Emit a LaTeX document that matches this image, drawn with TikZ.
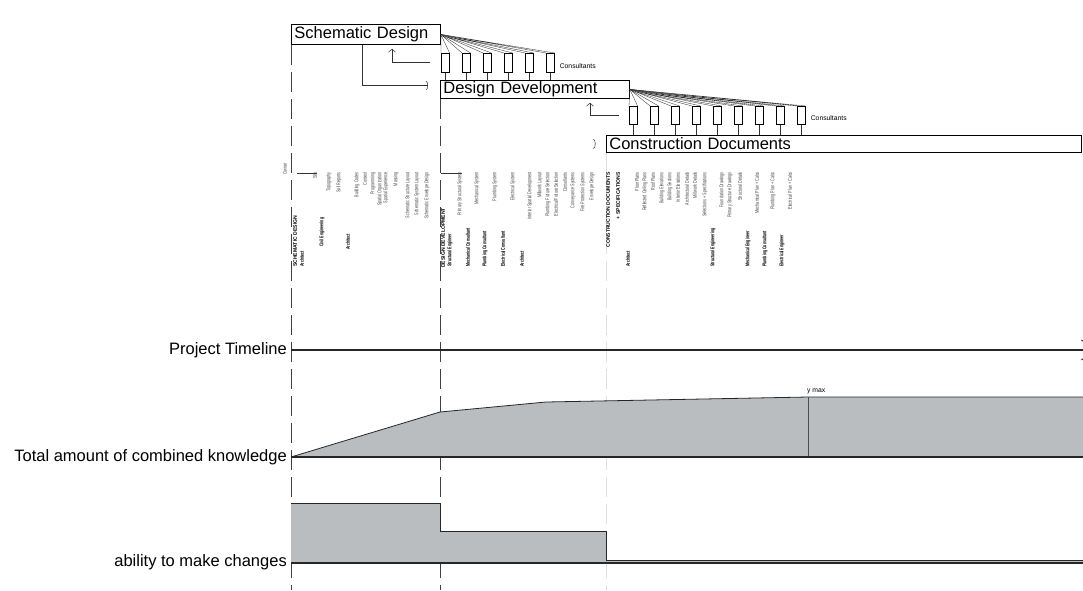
\documentclass[tikz,border=0pt]{standalone}
\usepackage{fontspec}
\setmainfont{Liberation Sans}
\usetikzlibrary{arrows.meta,positioning,calc}
\definecolor{chartgray}{RGB}{186,189,192}
\definecolor{inkgray}{RGB}{70,70,70}

\tikzset{
  phasebox/.style={draw=black,line width=0.8pt,inner xsep=3pt,inner ysep=0pt,
    anchor=north west,align=left,font=\fontsize{16.5}{18}\selectfont},
  consbox/.style={draw=black,line width=0.6pt,minimum width=8pt,
    minimum height=19pt,inner sep=0pt,anchor=north west},
  constxt/.style={font=\fontsize{6.8}{8}\selectfont,inner sep=0pt},
  rowlabel/.style={anchor=east,font=\fontsize{16.5}{18}\selectfont,inner sep=0pt},
  itemtxt/.style={rotate=90,xscale=0.68,anchor=east,inner sep=0pt,
    font=\fontsize{5.5}{6}\selectfont,text=inkgray},
  roletxt/.style={rotate=90,xscale=0.66,anchor=west,inner sep=0pt,
    font=\fontsize{5.4}{6}\selectfont\bfseries},
  headtxt/.style={rotate=90,anchor=west,inner sep=0pt,
    font=\fontsize{5.1}{6}\selectfont\bfseries},
  headtop/.style={headtxt,anchor=east},
  phaseline/.style={dash pattern=on 20pt off 7pt,line width=0.5pt,black!75},
  fanline/.style={line width=0.35pt,black!80},
  conn/.style={line width=0.5pt,black!80},
  base/.style={line width=1.4pt,black!85}
}

\begin{document}
\begin{tikzpicture}[x=1pt,y=-1pt]
  \useasboundingbox (0,0) rectangle (1083,590);

  % phases
  \node[phasebox,text width=143pt,minimum height=20pt] (sd) at (291,24) {Schematic Design};
  \node[phasebox,text width=183pt,minimum height=18pt] (dd) at (440,80) {Design Development};
  \node[phasebox,text width=469pt,minimum height=17pt] (cd) at (606,135) {Construction Documents};

  % consultants
  \foreach \k in {0,...,5}{
    \node[consbox] (ca\k) at (441+21*\k,53) {};
    \draw[fanline] (sd.east) -- (ca\k.north west) (sd.east) -- (ca\k.north east);
    \draw[conn] (ca\k.south) -- (ca\k.south |- dd.north);
  }
  \node[constxt,anchor=west] (cl1) at ($(ca5.east)+(5,3)$) {Consultants};
  \foreach \k in {0,...,8}{
    \node[consbox,minimum height=18pt] (cb\k) at (629+21*\k,106) {};
    \draw[fanline] (dd.east) -- (cb\k.north west) (dd.east) -- (cb\k.north east);
    \draw[conn] (cb\k.south) -- (cb\k.south |- cd.north);
  }
  \node[constxt,anchor=west] (cl2) at ($(cb8.east)+(5,3)$) {Consultants};

  % feedback and hand-over
  \coordinate (fa) at (430,62);
  \coordinate (fb) at (619,115);
  \draw[conn,-{Straight Barb[length=3pt,width=7pt]}] (fa) -| ($(sd.south west)+(101,4)$);
  \draw[conn,-{Straight Barb[length=3pt,width=7pt]}] (fb) -| ($(dd.south west)+(150,4)$);
  \draw[conn,-{Arc Barb[length=2pt,width=9pt]}] ($(sd.south west)+(71,0)$) |- ($(dd.west)+(-12,-4)$);
  \draw[conn] ($(cd.west)+(-13,-4.5)$) to[out=30,in=-30] ($(cd.west)+(-13,4.5)$);

  % phase lines
  \draw[phaseline] (sd.south west) -- (291,590);
  \draw[phaseline] (dd.south west) -- (440,590);
  \draw[phaseline,black!12] (cd.south west) -- (606,590);
  \draw[conn] (297,173) -- (317,173);
  \draw[conn] (441,173) -- (462,173);

  % tasks
  \foreach \x/\y/\s/\t [count=\n] in {
    285/163/itemtxt/Owner, 295/267/headtxt/SCHEMATIC DESIGN, 302/267/roletxt/Architect,
    315/172/itemtxt/Site, 322/247/roletxt/Civil Engineering, 329/172/itemtxt/Topography,
    339/172/itemtxt/Soil Reports, 348/250/roletxt/Architect, 357/172/itemtxt/Building Codes,
    365/172/itemtxt/Context, 373/172/itemtxt/Programming, 380/172/itemtxt/Spatial Organization,
    386/172/itemtxt/Spatial Experience, 396/172/itemtxt/Massing,
    408/172/itemtxt/Schematic Structure Layout, 417/172/itemtxt/Schematic System Layout,
    427/172/itemtxt/Schematic Envelope Design,
    443/268/headtxt/DESIGN DEVELOPMENT, 450/267/roletxt/Structural Engineer,
    460/172/itemtxt/Primary Structural System, 468/267/roletxt/Mechanical Consultant,
    477/172/itemtxt/Mechanical System, 485/267/roletxt/Plumbing Consultant,
    495/172/itemtxt/Plumbing System, 503/267/roletxt/Electrical Consultant,
    513/172/itemtxt/Electrical System, 522/267/roletxt/Architect,
    530/172/itemtxt/Interior Spatial Development, 540/172/itemtxt/Millwork Layout,
    548/172/itemtxt/Plumbing Fixture Selection, 556/172/itemtxt/Electrical Fixture Selection,
    565/172/itemtxt/Consultants, 573/172/itemtxt/Conveyance Systems,
    583/172/itemtxt/Fire Protection Systems, 592/172/itemtxt/Envelope Design,
    608/172/headtop/CONSTRUCTION DOCUMENTS, 618/172/headtop/{+ SPECIFICATIONS},
    628/267/roletxt/Architect, 637/172/itemtxt/Floor Plans,
    645/172/itemtxt/Reflected Ceiling Plans, 653/172/itemtxt/Roof Plans,
    662/172/itemtxt/Building Elevations, 670/172/itemtxt/Building Sections,
    678/172/itemtxt/Interior Elevations, 687/172/itemtxt/Architectural Details,
    695/172/itemtxt/Millwork Details, 705/172/itemtxt/{Selections + Specifications},
    713/267/roletxt/Structural Engineering, 722/172/itemtxt/Foundation Drawings,
    730/172/itemtxt/Primary Structure Drawings, 740/172/itemtxt/Structural Details,
    748/267/roletxt/Mechanical Engineer, 757/172/itemtxt/{Mechanical Plan + Calcs},
    765/267/roletxt/Plumbing Consultant, 773/172/itemtxt/{Plumbing Plan + Calcs},
    782/267/roletxt/Electrical Engineer, 790/172/itemtxt/{Electrical Plan + Calcs}}
    \node[\s] (v\n) at (\x,\y) {\t};

  % timeline
  \node[rowlabel] (lt) at (287,350) {Project Timeline};
  \coordinate (t0) at (291,350);
  \coordinate (t1) at (1097,350);
  \draw[base,-{Straight Barb[length=15pt,width=20pt,line width=0.8pt]}] (t0) -- (t1);

  % knowledge
  \node[rowlabel] (lk) at (287,457) {Total amount of combined knowledge};
  \coordinate (k0) at (291,457);
  \coordinate (k1) at (440,412);
  \coordinate (k2) at (546,402);
  \coordinate (k3) at (808,397);
  \coordinate (k4) at (1083,397);
  \coordinate (k5) at (1083,457);
  \fill[chartgray] (k0) -- (k1) -- (k2) -- (k3) -- (k4) -- (k5) -- cycle;
  \draw[line width=0.8pt,black!85] (k0) -- (k1) -- (k2) -- (k3) -- (k4);
  \draw[line width=0.4pt,black!70] (k3) -- (k3 |- k5);
  \draw[base] (k0) -- (k5);
  \node[constxt,anchor=south west] (ym) at ($(k3)+(-1,-3)$) {y max};

  % ability to change
  \node[rowlabel] (la) at (287,562) {ability to make changes};
  \coordinate (a0) at (291,563);
  \coordinate (a1) at (291,503);
  \coordinate (a2) at (440,531);
  \coordinate (a3) at (606,560);
  \coordinate (a4) at (1083,563);
  \fill[chartgray] (a0) -- (a1) -| (a2) -| (a3) -| (a4) -- cycle;
  \draw[line width=0.8pt,black!85] (a1) -| (a2) -| (a3) -- (a3 -| a4);
  \draw[base] (a0) -- (a4);
\end{tikzpicture}
\end{document}
